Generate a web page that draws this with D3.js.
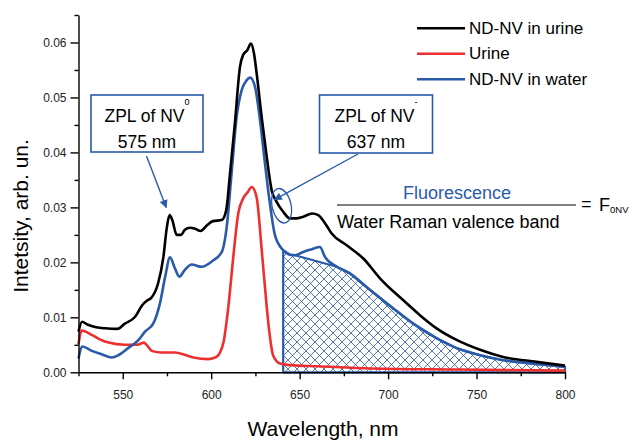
<!DOCTYPE html>
<html>
<head>
<meta charset="utf-8">
<script src="https://cdn.jsdelivr.net/npm/d3@7"></script>
<style>
  html, body { margin: 0; padding: 0; background: #fff; }
  svg { display: block; font-family: "Liberation Sans", Arial, sans-serif; }
</style>
</head>
<body>
<svg id="chart" width="633" height="440"></svg>
<script>
// spectra: [wavelength nm, intensity]
const ndnvUrine = [
  [525, 0.0074], [527, 0.0092], [530, 0.0087], [535, 0.0082], [540, 0.0080], [547, 0.0079],
  [551, 0.0088], [557, 0.0101], [561, 0.0122], [564, 0.0131], [566, 0.0135], [570, 0.0162],
  [573, 0.0210], [575, 0.0265], [576.5, 0.0286], [578, 0.0277], [580.5, 0.0250], [583, 0.0250],
  [585, 0.0259], [588, 0.0263], [591, 0.0261], [594, 0.0257], [597.5, 0.0267], [601, 0.0275],
  [606, 0.0277], [608.5, 0.0295], [610.6, 0.0360], [613.4, 0.0453], [616.3, 0.0556], [618, 0.0577],
  [620.4, 0.0586], [622.5, 0.0598], [624.2, 0.0580], [625.7, 0.0544], [628.5, 0.0465], [631.4, 0.0392],
  [634.2, 0.0331], [637, 0.0310], [640.7, 0.0292], [644.5, 0.0280], [648, 0.0280], [652, 0.0283],
  [657, 0.0289], [660.5, 0.0286], [665, 0.0268], [668, 0.0253], [676.6, 0.0231], [686, 0.0207],
  [695.4, 0.0171], [708.6, 0.0131], [718, 0.0104], [727.4, 0.0080], [738.7, 0.0059], [752, 0.0041],
  [765, 0.0028], [784, 0.0019], [800, 0.0012]
];
const urine = [
  [525, 0.0051], [526.8, 0.0076], [532.5, 0.0068], [537, 0.0060], [542, 0.0054], [551, 0.0050],
  [558, 0.0050], [562, 0.0054], [564, 0.0048], [566.4, 0.0039], [572, 0.0036], [579.5, 0.0036],
  [585, 0.0032], [590, 0.0027], [598.4, 0.0024], [603, 0.0028], [605, 0.0036], [607, 0.0055],
  [609.7, 0.0119], [612.5, 0.0210], [615.3, 0.0289], [618, 0.0316], [620.5, 0.0327], [622.9, 0.0337],
  [625.7, 0.0318], [628.5, 0.0225], [631.4, 0.0119], [633, 0.0070], [635.1, 0.0030], [638.9, 0.0016],
  [645, 0.0013], [660, 0.0011], [690, 0.0007], [740, 0.0005], [800, 0.0003]
];
const ndnvWater = [
  [525, 0.0025], [527.2, 0.0047], [532.5, 0.0039], [538, 0.0033], [543.8, 0.0027], [547.5, 0.0031],
  [553, 0.0044], [559, 0.0059], [562.6, 0.0074], [567.3, 0.0089], [571, 0.0125], [574, 0.0174],
  [576.7, 0.0209], [579.5, 0.0189], [582, 0.0174], [585, 0.0186], [589, 0.0196], [594.6, 0.0192],
  [600.5, 0.0202], [606, 0.0219], [608.8, 0.0265], [611.6, 0.0365], [614.4, 0.0465], [617.2, 0.0513],
  [620, 0.0531], [622, 0.0536], [624.8, 0.0519], [627.6, 0.0459], [630.4, 0.0380], [633.2, 0.0307],
  [636, 0.0250], [640.7, 0.0222], [644.5, 0.0214], [647.4, 0.0213], [652, 0.0219], [657, 0.0224],
  [661.5, 0.0228], [664.3, 0.0210], [671, 0.0192], [678.4, 0.0180], [689.7, 0.0150], [703, 0.0116],
  [714, 0.0089], [727.4, 0.0062], [738.7, 0.0044], [752, 0.0031], [765, 0.0022], [784, 0.0015],
  [800, 0.0010]
];
// fluorescence area: from hatchStart, water Raman band cut out between the band edges
const hatchStart = 640.7;
const ramanBand = [647.4, 671];

const xTicks = [550, 600, 650, 700, 750, 800];
const xMinor = [525, 575, 625, 675, 725, 775];
const yTicks = [0, 0.01, 0.02, 0.03, 0.04, 0.05, 0.06];
const yMinor = [0.005, 0.015, 0.025, 0.035, 0.045, 0.055, 0.065];

const legendItems = [
  { name: "ND-NV in urine", color: "#000000" },
  { name: "Urine", color: "#ee2f2f" },
  { name: "ND-NV in water", color: "#2a5ba8" },
];
const BLUE = "#2a5ba8";

const svg = d3.select("#chart");
const x = d3.scaleLinear().domain([525, 800]).range([78.5, 565]);
const y = d3.scaleLinear().domain([0, 0.065]).range([372.3, 15]);

const defs = svg.append("defs");
const pat = defs.append("pattern")
  .attr("id", "xhatch").attr("patternUnits", "userSpaceOnUse")
  .attr("width", 9).attr("height", 9);
pat.append("path").attr("d", "M0,0L9,9M0,9L9,0")
  .attr("stroke", BLUE).attr("stroke-width", 0.8).attr("fill", "none");
defs.append("marker")
  .attr("id", "arrow").attr("viewBox", "0 0 10 10").attr("refX", 9).attr("refY", 5)
  .attr("markerWidth", 9).attr("markerHeight", 8).attr("markerUnits", "userSpaceOnUse")
  .attr("orient", "auto")
  .append("path").attr("d", "M0,0L10,5L0,10z").attr("fill", BLUE);

// hatched fluorescence area
const hatchTop = ndnvWater.filter(d => d[0] >= hatchStart && !(d[0] > ramanBand[0] && d[0] < ramanBand[1]));
const area = d3.area().x(d => x(d[0])).y0(y(0)).y1(d => y(d[1]));
svg.append("path").datum(hatchTop)
  .attr("d", area).attr("fill", "url(#xhatch)")
  .attr("stroke", BLUE).attr("stroke-width", 2.2).attr("stroke-linejoin", "round");

const line = d3.line().x(d => x(d[0])).y(d => y(d[1])).curve(d3.curveMonotoneX);
[[urine, "#ee2f2f"], [ndnvWater, BLUE], [ndnvUrine, "#000"]].forEach(([data, c]) => {
  svg.append("path").datum(data).attr("d", line)
    .attr("fill", "none").attr("stroke", c).attr("stroke-width", 2.6)
    .attr("stroke-linejoin", "round");
});

// axes
const gx = svg.append("g").attr("transform", `translate(0,${y(0)})`);
gx.call(d3.axisBottom(x).tickValues(xTicks).tickSize(7).tickSizeOuter(0).tickPadding(11).tickFormat(d3.format("d")));
gx.append("g").call(d3.axisBottom(x).tickValues(xMinor).tickSize(4).tickFormat(""))
  .select(".domain").remove();
const gy = svg.append("g").attr("transform", `translate(${x(525)},0)`);
gy.call(d3.axisLeft(y).tickValues(yTicks).tickSize(8).tickSizeOuter(0).tickPadding(4).tickFormat(d3.format(".2f")));
gy.append("g").call(d3.axisLeft(y).tickValues(yMinor).tickSize(4).tickFormat(""))
  .select(".domain").remove();
svg.selectAll(".domain, .tick line").attr("stroke", "#000").attr("stroke-width", 1.4);
svg.selectAll(".tick text").attr("font-size", 12).attr("fill", "#222").attr("font-family", "Liberation Sans, Arial, sans-serif");
gx.selectAll(".tick text").attr("dy", "0.7em");

svg.append("text").attr("x", 323).attr("y", 436).attr("text-anchor", "middle")
  .attr("font-size", 21).text("Wavelength, nm");
svg.append("text").attr("transform", "translate(28,216) rotate(-90)").attr("text-anchor", "middle")
  .attr("font-size", 21).text("Intetsity, arb. un.");

// legend
const lg = svg.append("g").attr("transform", "translate(417,28.3)");
legendItems.forEach((d, i) => {
  const row = lg.append("g").attr("transform", `translate(0,${i * 25.5})`);
  row.append("line").attr("x1", 0).attr("x2", 48).attr("stroke", d.color).attr("stroke-width", 2.6);
  row.append("text").attr("x", 52).attr("y", 5.5).attr("font-size", 17).text(d.name);
});

// annotation boxes
function zplBox(x0, y0, w, h, sup, nm) {
  const g = svg.append("g");
  g.append("rect").attr("x", x0).attr("y", y0).attr("width", w).attr("height", h)
    .attr("fill", "#fff").attr("stroke", BLUE).attr("stroke-width", 1.6);
  const t = g.append("text").attr("x", x0 + w / 2).attr("y", y0 + 26.5)
    .attr("text-anchor", "middle").attr("font-size", 17.5);
  t.append("tspan").text("ZPL of NV");
  t.append("tspan").attr("dy", -17).attr("font-size", 9).text(sup);
  g.append("text").attr("x", x0 + w / 2).attr("y", y0 + 52.5)
    .attr("text-anchor", "middle").attr("font-size", 17.5).text(nm);
}
zplBox(91, 95, 112, 57, "0", "575 nm");
zplBox(319.5, 95, 113, 58, "-", "637 nm");

// arrows
svg.append("line").attr("x1", 146.5).attr("y1", 156).attr("x2", x(574.6)).attr("y2", y(0.0300))
  .attr("stroke", BLUE).attr("stroke-width", 1.4).attr("marker-end", "url(#arrow)");
svg.append("line").attr("x1", 358).attr("y1", 154).attr("x2", x(635.8)).attr("y2", y(0.0314))
  .attr("stroke", BLUE).attr("stroke-width", 1.4).attr("marker-end", "url(#arrow)");
svg.append("ellipse").attr("cx", x(639.8)).attr("cy", y(0.0303)).attr("rx", 9.5).attr("ry", 17.5)
  .attr("transform", `rotate(-12,${x(639.8)},${y(0.0303)})`)
  .attr("fill", "none").attr("stroke", BLUE).attr("stroke-width", 1.3);

// F0NV ratio
svg.append("text").attr("x", 457).attr("y", 199).attr("text-anchor", "middle")
  .attr("font-size", 18).attr("fill", BLUE).text("Fluorescence");
svg.append("line").attr("x1", 337).attr("x2", 576).attr("y1", 205).attr("y2", 205)
  .attr("stroke", "#555").attr("stroke-width", 1.4);
svg.append("text").attr("x", 337).attr("y", 227.5).attr("font-size", 18).text("Water Raman valence band");
svg.append("text").attr("x", 581).attr("y", 210).attr("font-size", 18).text("=");
const f = svg.append("text").attr("x", 599).attr("y", 211).attr("font-size", 18);
f.append("tspan").text("F");
f.append("tspan").attr("dy", 2).attr("font-size", 9.5).text("0NV");
</script>
</body>
</html>
